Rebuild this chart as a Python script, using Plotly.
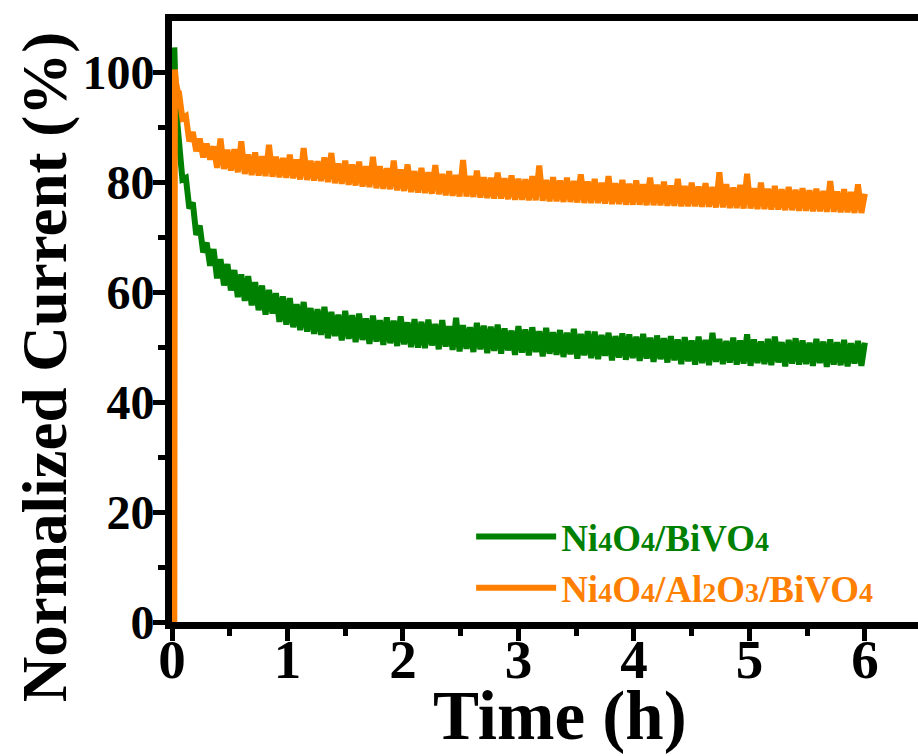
import numpy as np
import plotly.graph_objects as go

# Regular sampling grid of the chronoamperometry record (h), plus the
# first few points recorded while the light was switched on.
t_grid = np.round(np.arange(0.06, 6.0001, 0.03), 3).tolist()

t_start_nibi = [0.015, 0.02, 0.03, 0.045]
i_start_nibi = [49.0, 104.5, 97.0, 91.0]

t_start_nialbi = [0.02, 0.025, 0.035, 0.05]
i_start_nialbi = [0.0, 100.5, 98.0, 96.5]

# Normalized photocurrent (%) of Ni4O4/BiVO4 on the grid
i_nibi = [
    87.5, 80.5, 80.8, 75.2, 76.3, 70.4, 72.1, 67.2, 69.0, 64.8,
    67.8, 62.5, 66.0, 61.2, 65.1, 60.3, 64.0, 59.1, 63.2, 58.4,
    62.9, 57.6, 61.8, 56.7, 61.2, 55.9, 60.4, 56.1, 59.8, 54.6,
    59.2, 54.1, 58.9, 53.6, 57.8, 53.1, 58.2, 52.8, 57.1, 52.4,
    56.9, 52.2, 57.3, 51.6, 56.4, 52.0, 55.9, 51.2, 56.6, 51.5,
    55.8, 50.9, 56.1, 51.3, 55.2, 50.6, 55.7, 51.0, 54.9, 50.4,
    55.4, 50.7, 54.8, 50.2, 55.6, 50.5, 54.5, 50.0, 55.1, 49.9,
    54.6, 49.8, 55.0, 50.3, 54.2, 49.6, 54.9, 50.1, 53.8, 49.5,
    55.3, 49.2, 54.0, 49.7, 53.6, 49.1, 54.4, 49.6, 53.9, 48.9,
    53.7, 49.3, 54.1, 48.8, 53.4, 49.4, 53.0, 48.6, 53.8, 49.0,
    53.2, 48.5, 53.6, 49.1, 52.9, 48.3, 53.5, 48.8, 52.7, 48.6,
    53.1, 48.2, 52.6, 48.7, 53.3, 47.9, 52.4, 48.5, 52.9, 48.0,
    52.8, 47.8, 52.2, 48.4, 52.6, 47.6, 52.0, 48.1, 52.5, 47.7,
    52.3, 48.0, 51.9, 47.5, 52.4, 47.9, 51.7, 47.3, 52.1, 47.8,
    51.6, 47.2, 52.0, 47.6, 51.4, 46.9, 51.8, 47.4, 51.2, 46.8,
    51.9, 47.1, 51.3, 46.7, 52.6, 47.3, 51.5, 46.9, 51.1, 47.2,
    51.7, 46.8, 51.2, 47.0, 52.3, 46.6, 51.4, 47.1, 51.0, 46.9,
    51.5, 46.7, 51.9, 47.2, 50.9, 46.5, 51.3, 47.0, 51.6, 46.8,
    51.2, 46.9, 50.8, 46.6, 51.5, 47.1, 51.0, 46.4, 51.4, 46.8,
    50.9, 46.7, 51.3, 46.5, 50.7, 47.0, 51.1, 46.6, 50.8,
]

# Normalized photocurrent (%) of Ni4O4/Al2O3/BiVO4 on the grid
i_nialbi = [
    96.3, 91.6, 92.0, 87.4, 89.1, 85.6, 87.9, 84.5, 87.0, 84.1,
    86.5, 82.6, 87.9, 82.4, 85.9, 82.1, 86.0, 81.8, 87.4, 81.5,
    85.0, 81.3, 85.4, 81.2, 84.7, 81.1, 86.8, 81.0, 84.6, 80.9,
    84.4, 80.8, 85.0, 80.7, 84.1, 80.5, 86.2, 80.4, 83.9, 80.3,
    83.8, 80.2, 84.5, 80.0, 85.3, 79.8, 83.4, 79.7, 83.9, 79.5,
    83.2, 79.4, 83.7, 79.2, 82.9, 79.1, 84.6, 78.9, 82.9, 78.8,
    82.5, 78.7, 83.9, 78.5, 82.3, 78.4, 83.2, 78.2, 82.0, 78.1,
    82.6, 78.0, 81.8, 77.9, 83.1, 77.8, 81.5, 77.6, 82.0, 77.5,
    81.3, 77.4, 84.0, 77.4, 81.1, 77.3, 82.1, 77.2, 80.9, 77.1,
    80.8, 77.0, 81.7, 77.0, 80.7, 76.9, 81.2, 76.8, 80.6, 76.8,
    80.5, 76.7, 81.1, 76.7, 83.0, 76.6, 80.4, 76.5, 80.9, 76.5,
    80.3, 76.4, 80.8, 76.4, 80.2, 76.3, 81.4, 76.2, 80.1, 76.2,
    80.6, 76.2, 79.9, 76.1, 81.1, 76.0, 79.8, 76.0, 80.4, 75.9,
    79.7, 75.9, 80.3, 75.9, 79.6, 75.8, 80.8, 75.8, 79.5, 75.8,
    80.1, 75.7, 79.4, 75.7, 80.6, 75.6, 79.3, 75.6, 79.9, 75.6,
    79.2, 75.5, 79.8, 75.5, 79.1, 75.4, 81.8, 75.4, 79.6, 75.3,
    79.0, 75.3, 79.5, 75.2, 81.5, 75.2, 78.9, 75.1, 79.9, 75.1,
    78.8, 75.0, 79.3, 75.0, 78.7, 74.9, 79.1, 74.9, 78.6, 74.8,
    78.9, 74.8, 78.5, 74.7, 78.8, 74.7, 78.4, 74.6, 80.2, 74.6,
    78.3, 74.5, 78.7, 74.5, 78.2, 74.4, 79.6, 74.4, 77.9,
]

x_ticks = [0, 1, 2, 3, 4, 5, 6]
y_ticks = [0, 20, 40, 60, 80, 100]

GREEN = "#008000"
ORANGE = "#ff8000"
SERIF = "Liberation Serif"


def label(parts, color, small=28):
    """Build a legend label where chemical subscripts are set smaller."""
    out = []
    for txt, is_sub in parts:
        if is_sub:
            out.append(f'<span style="font-size:{small}px">{txt}</span>')
        else:
            out.append(txt)
    return f'<span style="color:{color}">' + "".join(out) + "</span>"


name_nibi = label([("Ni", 0), ("4", 1), ("O", 0), ("4", 1), ("/BiVO", 0), ("4", 1)], GREEN)
name_nialbi = label([("Ni", 0), ("4", 1), ("O", 0), ("4", 1), ("/Al", 0), ("2", 1),
                     ("O", 0), ("3", 1), ("/BiVO", 0), ("4", 1)], ORANGE)

fig = go.Figure()
fig.add_trace(go.Scatter(
    x=t_start_nibi + t_grid, y=i_start_nibi + i_nibi, mode="lines",
    line=dict(color=GREEN, width=6), name=name_nibi,
))
fig.add_trace(go.Scatter(
    x=t_start_nialbi + t_grid, y=i_start_nialbi + i_nialbi, mode="lines",
    line=dict(color=ORANGE, width=6), name=name_nialbi,
))

axis_common = dict(
    showline=True, linewidth=7, linecolor="black",
    ticks="outside", tickwidth=5, tickcolor="black",
    showgrid=False, zeroline=False,
)

fig.update_xaxes(
    range=[0, 6.46], tickvals=x_ticks, mirror=True, ticklen=12,
    ticklabelstandoff=-29,
    tickfont=dict(family=SERIF, size=55, color="black", weight="bold"),
    minor=dict(dtick=0.5, ticks="outside", ticklen=7, tickwidth=5, tickcolor="black"),
    **axis_common,
)
fig.update_yaxes(
    range=[0, 109.3], tickvals=y_ticks, ticklen=12,
    ticklabelstandoff=-11,
    tickfont=dict(family=SERIF, size=48, color="black", weight="bold"),
    minor=dict(dtick=10, ticks="outside", ticklen=7, tickwidth=5, tickcolor="black"),
    **axis_common,
)

fig.add_annotation(
    text="Time (h)", xref="paper", yref="paper", x=0.520, y=-0.156,
    xanchor="center", yanchor="middle", showarrow=False,
    font=dict(family=SERIF, size=69, color="black", weight="bold"),
)
fig.add_annotation(
    text="Normalized Current (%)", xref="paper", yref="paper", x=-0.170, y=0.424,
    xanchor="center", yanchor="middle", textangle=-90, showarrow=False,
    font=dict(family=SERIF, size=63, color="black", weight="bold"),
)

fig.update_layout(
    width=918, height=756,
    margin=dict(l=172, r=0, t=21, b=134),
    paper_bgcolor="white", plot_bgcolor="white",
    showlegend=True,
    legend=dict(
        x=0.401, y=0.193, xanchor="left", yanchor="top",
        bgcolor="rgba(0,0,0,0)", borderwidth=0,
        font=dict(family=SERIF, size=37, weight="bold"),
        itemwidth=80, tracegroupgap=0,
    ),
)

fig.write_html("out.html")
